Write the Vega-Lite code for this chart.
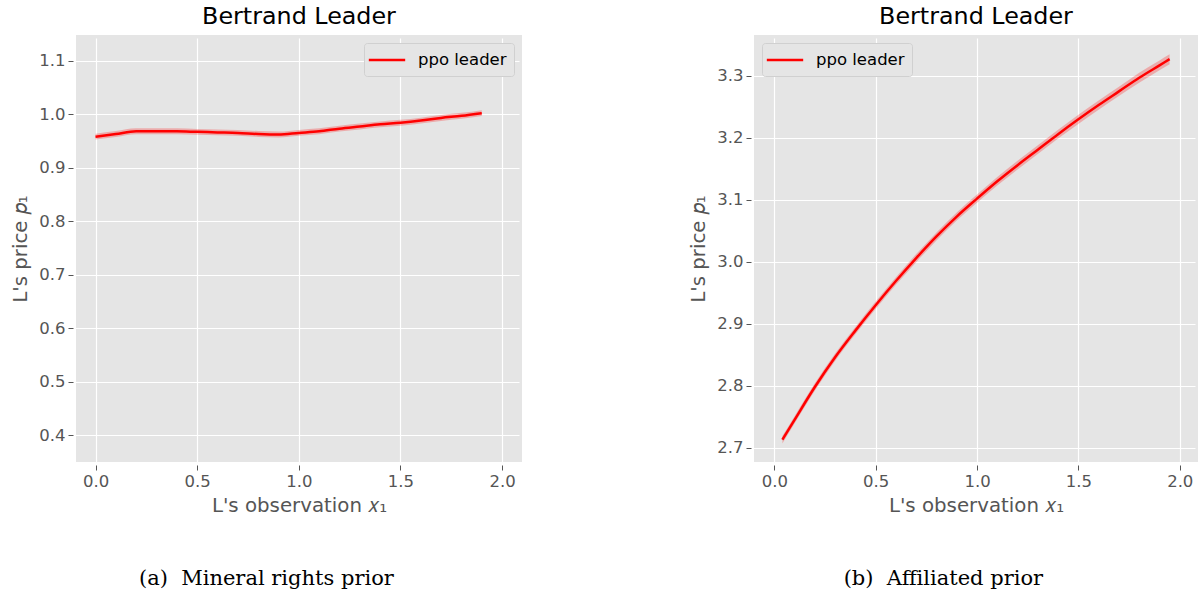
{
  "$schema": "https://vega.github.io/schema/vega-lite/v6.json",
  "background": "white",
  "padding": {"left": 10, "top": 5, "right": 0, "bottom": 0},
  "config": {
    "font": "DejaVu Sans",
    "view": {"fill": "#E5E5E5", "stroke": null},
    "axis": {
      "gridColor": "white", "gridWidth": 1.2, "domain": false,
      "tickColor": "#555555", "tickSize": 5, "tickWidth": 1,
      "labelColor": "#555555", "labelFontSize": 16.5, "labelFont": "DejaVu Sans",
      "titleColor": "#555555", "titleFontSize": 19.8, "titleFontWeight": "normal", "titleFont": "DejaVu Sans",
      "offset": 3, "labelPadding": 3
    },
    "axisY": {"titlePadding": 8},
    "axisX": {"titlePadding": 6},
    "title": {"font": "DejaVu Sans", "fontSize": 23.8, "fontWeight": "normal", "color": "black", "offset": 6},
    "legend": {
      "title": null, "offset": 8, "padding": 7, "fillColor": "#E5E5E5", "strokeColor": "#d0d0d0", "cornerRadius": 3,
      "labelFontSize": 16.5, "labelColor": "black", "labelFont": "DejaVu Sans", "labelOffset": 21,
      "symbolType": "M-2.1,0H2.1", "symbolSize": 300, "symbolStrokeWidth": 2.5, "symbolOffset": 6
    },
    "concat": {"spacing": 166}
  },
  "resolve": {"scale": {"color": "independent"}, "legend": {"color": "independent"}},
  "datasets": {
    "mineral": [
      {"x": 0.0, "y": 0.958, "lo": 0.9525, "hi": 0.9635, "series": "ppo leader"},
      {"x": 0.1, "y": 0.963, "lo": 0.9575, "hi": 0.9685, "series": "ppo leader"},
      {"x": 0.2, "y": 0.968, "lo": 0.9625, "hi": 0.9735, "series": "ppo leader"},
      {"x": 0.3, "y": 0.968, "lo": 0.9625, "hi": 0.9735, "series": "ppo leader"},
      {"x": 0.4, "y": 0.968, "lo": 0.9625, "hi": 0.9735, "series": "ppo leader"},
      {"x": 0.5, "y": 0.967, "lo": 0.9615, "hi": 0.9725, "series": "ppo leader"},
      {"x": 0.6, "y": 0.966, "lo": 0.9605, "hi": 0.9715, "series": "ppo leader"},
      {"x": 0.7, "y": 0.965, "lo": 0.9595, "hi": 0.9705, "series": "ppo leader"},
      {"x": 0.8, "y": 0.963, "lo": 0.9575, "hi": 0.9685, "series": "ppo leader"},
      {"x": 0.9, "y": 0.962, "lo": 0.9565, "hi": 0.9675, "series": "ppo leader"},
      {"x": 1.0, "y": 0.965, "lo": 0.9595, "hi": 0.9705, "series": "ppo leader"},
      {"x": 1.1, "y": 0.968, "lo": 0.9625, "hi": 0.9735, "series": "ppo leader"},
      {"x": 1.2, "y": 0.973, "lo": 0.9675, "hi": 0.9785, "series": "ppo leader"},
      {"x": 1.3, "y": 0.977, "lo": 0.9715, "hi": 0.9825, "series": "ppo leader"},
      {"x": 1.4, "y": 0.981, "lo": 0.9755, "hi": 0.9865, "series": "ppo leader"},
      {"x": 1.5, "y": 0.984, "lo": 0.9785, "hi": 0.9895, "series": "ppo leader"},
      {"x": 1.6, "y": 0.988, "lo": 0.9825, "hi": 0.9935, "series": "ppo leader"},
      {"x": 1.7, "y": 0.993, "lo": 0.9875, "hi": 0.9985, "series": "ppo leader"},
      {"x": 1.8, "y": 0.997, "lo": 0.9915, "hi": 1.0025, "series": "ppo leader"},
      {"x": 1.9, "y": 1.002, "lo": 0.9965, "hi": 1.0075, "series": "ppo leader"}
    ],
    "affiliated": [
      {"x": 0.04, "y": 2.713, "lo": 2.707, "hi": 2.719, "series": "ppo leader"},
      {"x": 0.1, "y": 2.745, "lo": 2.739, "hi": 2.751, "series": "ppo leader"},
      {"x": 0.2, "y": 2.798, "lo": 2.792, "hi": 2.804, "series": "ppo leader"},
      {"x": 0.3, "y": 2.846, "lo": 2.84, "hi": 2.852, "series": "ppo leader"},
      {"x": 0.4, "y": 2.889, "lo": 2.883, "hi": 2.895, "series": "ppo leader"},
      {"x": 0.5, "y": 2.93, "lo": 2.924, "hi": 2.936, "series": "ppo leader"},
      {"x": 0.6, "y": 2.969, "lo": 2.963, "hi": 2.975, "series": "ppo leader"},
      {"x": 0.7, "y": 3.006, "lo": 2.9995, "hi": 3.0125, "series": "ppo leader"},
      {"x": 0.8, "y": 3.041, "lo": 3.0345, "hi": 3.0475, "series": "ppo leader"},
      {"x": 0.9, "y": 3.073, "lo": 3.0665, "hi": 3.0795, "series": "ppo leader"},
      {"x": 1.0, "y": 3.102, "lo": 3.0955, "hi": 3.1085, "series": "ppo leader"},
      {"x": 1.1, "y": 3.13, "lo": 3.123, "hi": 3.137, "series": "ppo leader"},
      {"x": 1.2, "y": 3.156, "lo": 3.149, "hi": 3.163, "series": "ppo leader"},
      {"x": 1.3, "y": 3.181, "lo": 3.174, "hi": 3.188, "series": "ppo leader"},
      {"x": 1.4, "y": 3.206, "lo": 3.199, "hi": 3.213, "series": "ppo leader"},
      {"x": 1.5, "y": 3.23, "lo": 3.2225, "hi": 3.2375, "series": "ppo leader"},
      {"x": 1.6, "y": 3.253, "lo": 3.2455, "hi": 3.2605, "series": "ppo leader"},
      {"x": 1.7, "y": 3.275, "lo": 3.2675, "hi": 3.2825, "series": "ppo leader"},
      {"x": 1.8, "y": 3.297, "lo": 3.289, "hi": 3.305, "series": "ppo leader"},
      {"x": 1.9, "y": 3.317, "lo": 3.309, "hi": 3.325, "series": "ppo leader"},
      {"x": 1.95, "y": 3.327, "lo": 3.319, "hi": 3.335, "series": "ppo leader"}
    ]
  },
  "hconcat": [
    {
      "title": {"text": "(a)\u00a0\u00a0Mineral rights prior", "orient": "bottom", "anchor": "middle", "font": "DejaVu Serif", "fontSize": 21, "color": "black", "offset": 53},
      "resolve": {"scale": {"color": "independent"}, "legend": {"color": "independent"}},
      "vconcat": [
        {
          "title": "Bertrand Leader",
          "width": 446, "height": 427,
          "data": {"name": "mineral"},
          "layer": [
            {
              "mark": {"type": "area", "color": "red", "opacity": 0.25, "interpolate": "monotone"},
              "encoding": {
                "x": {"field": "x", "type": "quantitative"},
                "y": {"field": "lo", "type": "quantitative"},
                "y2": {"field": "hi"}
              }
            },
            {
              "mark": {"type": "line", "strokeWidth": 2.5, "interpolate": "monotone"},
              "encoding": {
                "x": {"field": "x", "type": "quantitative", "title": "L's observation 𝑥₁",
                  "scale": {"domain": [-0.096, 2.098], "zero": false, "nice": false},
                  "axis": {"values": [0, 0.5, 1, 1.5, 2], "format": ".1f"}},
                "y": {"field": "y", "type": "quantitative", "title": "L's price 𝑝₁",
                  "scale": {"domain": [0.35, 1.148], "zero": false, "nice": false},
                  "axis": {"values": [0.4, 0.5, 0.6, 0.7, 0.8, 0.9, 1.0, 1.1], "format": ".1f"}},
                "color": {"field": "series", "type": "nominal", "scale": {"range": ["#FF0000"]},
                  "legend": {"orient": "top-right"}}
              }
            }
          ]
        }
      ]
    },
    {
      "title": {"text": "(b)\u00a0\u00a0Affiliated prior", "orient": "bottom", "anchor": "middle", "font": "DejaVu Serif", "fontSize": 21, "color": "black", "offset": 53},
      "resolve": {"scale": {"color": "independent"}, "legend": {"color": "independent"}},
      "vconcat": [
        {
          "title": "Bertrand Leader",
          "width": 444, "height": 427,
          "data": {"name": "affiliated"},
          "layer": [
            {
              "mark": {"type": "area", "color": "red", "opacity": 0.25, "interpolate": "monotone"},
              "encoding": {
                "x": {"field": "x", "type": "quantitative"},
                "y": {"field": "lo", "type": "quantitative"},
                "y2": {"field": "hi"}
              }
            },
            {
              "mark": {"type": "line", "strokeWidth": 2.5, "interpolate": "monotone"},
              "encoding": {
                "x": {"field": "x", "type": "quantitative", "title": "L's observation 𝑥₁",
                  "scale": {"domain": [-0.1, 2.09], "zero": false, "nice": false},
                  "axis": {"values": [0, 0.5, 1, 1.5, 2], "format": ".1f"}},
                "y": {"field": "y", "type": "quantitative", "title": "L's price 𝑝₁",
                  "scale": {"domain": [2.677, 3.366], "zero": false, "nice": false},
                  "axis": {"values": [2.7, 2.8, 2.9, 3.0, 3.1, 3.2, 3.3], "format": ".1f"}},
                "color": {"field": "series", "type": "nominal", "scale": {"range": ["#FF0000"]},
                  "legend": {"orient": "top-left"}}
              }
            }
          ]
        }
      ]
    }
  ]
}
